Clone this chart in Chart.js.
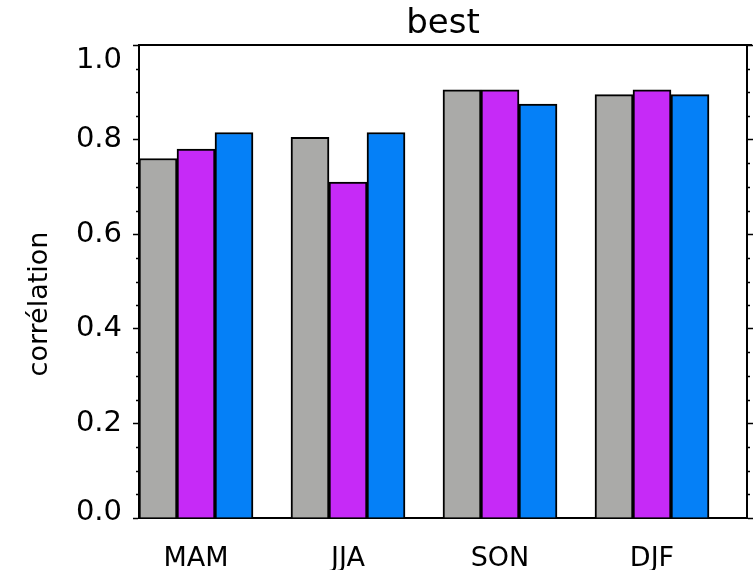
<!DOCTYPE html>
<html>
<head>
<meta charset="utf-8">
<script src="https://cdn.jsdelivr.net/npm/chart.js@4"></script>
<style>
  html, body { margin: 0; padding: 0; background: #ffffff; }
  canvas { display: block; }
</style>
</head>
<body>
<canvas id="chart" width="755" height="570"></canvas>
<script>
// Seasonal correlation scores
const seasons = ['MAM', 'JJA', 'SON', 'DJF'];
const grayValues = [0.76, 0.805, 0.905, 0.895];
const purpleValues = [0.78, 0.71, 0.905, 0.905];
const blueValues = [0.815, 0.815, 0.875, 0.895];
const yMin = 0;
const yMax = 1;
const yMajorStep = 0.2;
const yMinorStep = 0.05;
const titleText = 'best';
const yTitleText = 'corrélation';

const FONT = 'DejaVu Sans';

// Minor tick marks, frame top line and rotated y title
const framePlugin = {
  id: 'frame',
  afterDraw(chart) {
    const { ctx, chartArea: a } = chart;
    const y = chart.scales.y;
    ctx.save();
    ctx.strokeStyle = '#000';
    ctx.lineWidth = 2;
    ctx.beginPath();
    ctx.moveTo(a.left - 1, a.top);
    ctx.lineTo(a.right + 5, a.top);
    ctx.stroke();

    ctx.lineWidth = 1.5;
    const n = Math.round((yMax - yMin) / yMinorStep);
    for (let i = 0; i <= n; i++) {
      const v = yMin + i * yMinorStep;
      if (Math.abs(v / yMajorStep - Math.round(v / yMajorStep)) < 1e-6) continue;
      const py = Math.round(y.getPixelForValue(v)) + 0.5;
      ctx.beginPath();
      ctx.moveTo(a.left - 3, py);
      ctx.lineTo(a.left, py);
      ctx.moveTo(a.right, py);
      ctx.lineTo(a.right + 3, py);
      ctx.stroke();
    }

    ctx.translate(40, 304);
    ctx.rotate(-Math.PI / 2);
    ctx.fillStyle = '#000';
    ctx.font = '27px "' + FONT + '"';
    ctx.textAlign = 'center';
    ctx.textBaseline = 'middle';
    ctx.fillText(yTitleText, 0, 0);
    ctx.restore();
  }
};

function isNear(a, b) { return Math.abs(a - b) < 1e-6; }

new Chart(document.getElementById('chart'), {
  type: 'bar',
  data: {
    labels: seasons,
    datasets: [
      { data: grayValues, backgroundColor: '#aaaaa8' },
      { data: purpleValues, backgroundColor: '#c62af7' },
      { data: blueValues, backgroundColor: '#0580f7' },
      // empty slot that leaves the gap after each group
      { data: seasons.map(() => null), backgroundColor: 'rgba(0,0,0,0)' }
    ]
  },
  options: {
    responsive: false,
    animation: false,
    devicePixelRatio: 1,
    layout: { padding: 0 },
    datasets: {
      bar: {
        categoryPercentage: 1,
        barPercentage: 1,
        borderColor: '#000',
        borderWidth: 2
      }
    },
    plugins: {
      legend: { display: false },
      tooltip: { enabled: false },
      title: {
        display: true,
        text: titleText,
        color: '#000',
        fullSize: false,
        font: { family: FONT, size: 34, weight: 'normal', lineHeight: 1.2 },
        padding: { top: 4, bottom: 0.2 }
      }
    },
    scales: {
      x: {
        grid: { display: false },
        border: { display: true, color: '#000', width: 2 },
        ticks: {
          color: '#000',
          font: { family: FONT, size: 27 },
          padding: 17,
          labelOffset: -19,
          maxRotation: 0
        },
        afterFit(scale) { scale.height = 52; }
      },
      y: {
        position: 'left',
        min: yMin,
        max: yMax,
        grid: {
          drawOnChartArea: false,
          drawTicks: true,
          tickLength: 6,
          tickColor: '#000',
          tickWidth: 1.5
        },
        border: { display: true, color: '#000', width: 2 },
        ticks: {
          stepSize: yMajorStep,
          color: '#000',
          padding: 11,
          font(ctx) {
            let lh = 1.2;
            if (ctx.tick && isNear(ctx.tick.value, yMax)) lh = 1.05;
            if (ctx.tick && isNear(ctx.tick.value, yMin)) lh = 0.4;
            return { family: FONT, size: 29, lineHeight: lh };
          },
          callback(v) {
            const s = Number(v).toFixed(1);
            if (isNear(v, yMax)) return ['', s];
            if (isNear(v, yMin)) return [s, ''];
            return s;
          }
        },
        afterFit(scale) { scale.width = 139; }
      },
      y2: {
        position: 'right',
        min: yMin,
        max: yMax,
        grid: {
          drawOnChartArea: false,
          drawTicks: true,
          tickLength: 6,
          tickColor: '#000',
          tickWidth: 1.5
        },
        border: { display: true, color: '#000', width: 2 },
        ticks: { display: false, stepSize: yMajorStep },
        afterFit(scale) { scale.width = 8; }
      }
    }
  },
  plugins: [framePlugin]
});
</script>
</body>
</html>
